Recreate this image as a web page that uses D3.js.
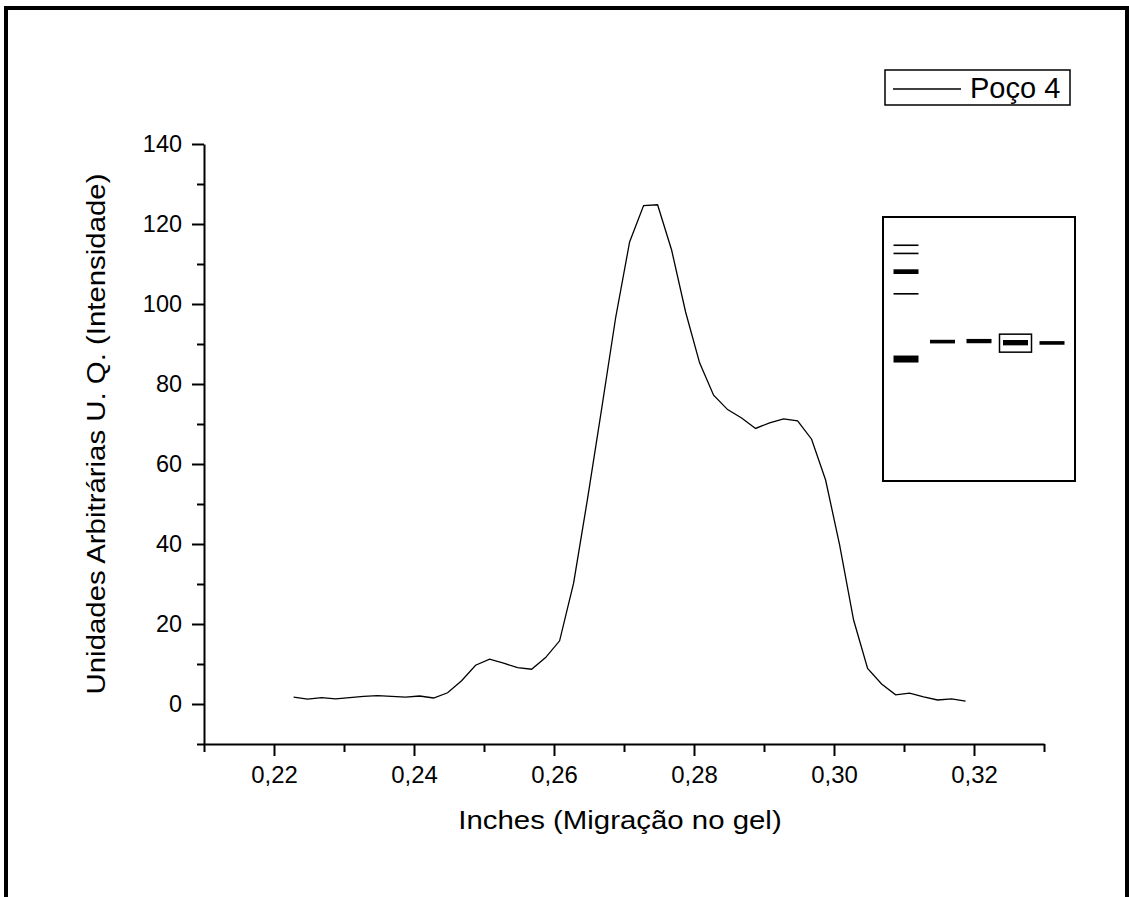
<!DOCTYPE html>
<html lang="pt">
<head>
<meta charset="utf-8">
<title>Poço 4 - densitometria</title>
<script src="https://d3js.org/d3.v7.min.js"></script>
<style>
    body { margin: 0; background: #fff; }
    svg { display: block; font-family: "Liberation Sans", Arial, sans-serif; }
    .axis path, .axis line { stroke: #000; stroke-width: 2; }
    .axis text { font-size: 23px; fill: #000; }
</style>
</head>
<body>
<div id="chart"></div>
<script>
var migracao = [0.2228, 0.2248, 0.2268, 0.2288, 0.2308, 0.2328, 0.2348, 0.2368, 0.2388, 0.2408,
    0.2428, 0.2448, 0.2468, 0.2488, 0.2508, 0.2528, 0.2548, 0.2568, 0.2588, 0.2608,
    0.2628, 0.2648, 0.2668, 0.2688, 0.2708, 0.2728, 0.2748, 0.2768, 0.2788, 0.2808,
    0.2828, 0.2848, 0.2868, 0.2888, 0.2908, 0.2928, 0.2948, 0.2968, 0.2988, 0.3008,
    0.3028, 0.3048, 0.3068, 0.3088, 0.3108, 0.3128, 0.3148, 0.3168, 0.3188];
var intensidade = [1.7, 1.2, 1.6, 1.3, 1.6, 1.9, 2.1, 1.9, 1.7, 2.0,
    1.5, 2.8, 5.8, 9.7, 11.2, 10.2, 9.1, 8.7, 11.6, 15.8,
    30.2, 51.4, 73.7, 96.5, 115.5, 124.6, 124.8, 113.5, 98.0, 85.3,
    77.2, 73.6, 71.5, 68.9, 70.3, 71.3, 70.8, 66.2, 56.0, 39.8,
    21.0, 8.9, 5.0, 2.3, 2.7, 1.8, 1.0, 1.3, 0.7];

var xTicks = [0.22, 0.24, 0.26, 0.28, 0.30, 0.32];
var xMinor = [0.21, 0.23, 0.25, 0.27, 0.29, 0.31, 0.33];
var yTicks = [0, 20, 40, 60, 80, 100, 120, 140];
var yMinor = [-10, 10, 30, 50, 70, 90, 110, 130];

// gel (inset): pista, migração relativa (0-100), intensidade relativa
var gelPista = [1, 1, 1, 1, 1, 2, 3, 4, 5];
var gelMigr = [10.7, 13.8, 20.7, 29.1, 53.8, 47.2, 47.0, 47.6, 47.7];
var gelInt = [1, 1, 3.3, 1, 5, 2.5, 3, 3.8, 2.5];
var pistaSelecionada = 4;

var serie = "Poço 4";

var W = 1129, H = 897;
var svg = d3.select("#chart").append("svg")
    .attr("width", W).attr("height", H);

// moldura da página
svg.append("rect")
    .attr("x", 6).attr("y", 8)
    .attr("width", 1121).attr("height", 960)
    .attr("fill", "none").attr("stroke", "#000").attr("stroke-width", 4);

var x = d3.scaleLinear().domain([0.21, 0.33]).range([204, 1044]),
    y = d3.scaleLinear().domain([-10, 140]).range([744, 144]);

var fmt = function (d) { return d3.format(".2f")(d).replace(".", ","); };

function stretch(sel, f) {
    sel.each(function () {
        var w = this.getComputedTextLength();
        d3.select(this).attr("textLength", w * f).attr("lengthAdjust", "spacingAndGlyphs");
    });
}

// eixo x
var gx = svg.append("g").attr("class", "axis").attr("transform", "translate(0," + y(-10) + ")");
gx.call(d3.axisBottom(x).tickValues(xTicks).tickFormat(fmt).tickSize(12).tickSizeOuter(0).tickPadding(11));
gx.append("g").call(d3.axisBottom(x).tickValues(xMinor).tickFormat("").tickSize(8).tickSizeOuter(0))
    .select(".domain").remove();
gx.selectAll("text").call(stretch, 1.04);

// eixo y
var gy = svg.append("g").attr("class", "axis").attr("transform", "translate(" + x(0.21) + ",0)");
gy.call(d3.axisLeft(y).tickValues(yTicks).tickSize(12).tickSizeOuter(0).tickPadding(10));
gy.append("g").call(d3.axisLeft(y).tickValues(yMinor).tickFormat("").tickSize(7).tickSizeOuter(0))
    .select(".domain").remove();
gy.selectAll("text").call(stretch, 1.02);

// títulos
svg.append("text")
    .attr("x", 620).attr("y", 829)
    .attr("text-anchor", "middle")
    .style("font-size", "26px")
    .text("Inches (Migração no gel)")
    .call(stretch, 1.13);

svg.append("text")
    .attr("transform", "translate(105,434) rotate(-90)")
    .attr("text-anchor", "middle")
    .style("font-size", "26px")
    .text("Unidades Arbitrárias U. Q. (Intensidade)")
    .call(stretch, 1.13);

// curva
var linha = d3.line()
    .x(function (d, i) { return x(migracao[i]); })
    .y(function (d) { return y(d); });
svg.append("path")
    .datum(intensidade)
    .attr("d", linha)
    .attr("fill", "none")
    .attr("stroke", "#000")
    .attr("stroke-width", 1.3);

// legenda
var leg = svg.append("g");
leg.append("rect").attr("x", 885).attr("y", 70).attr("width", 185).attr("height", 35)
    .attr("fill", "#fff").attr("stroke", "#000").attr("stroke-width", 1.5);
leg.append("line").attr("x1", 893).attr("x2", 961).attr("y1", 89).attr("y2", 89)
    .attr("stroke", "#000").attr("stroke-width", 1.3);
leg.append("text").attr("x", 970).attr("y", 98)
    .style("font-size", "29px").text(serie);

// inset do gel
var gel = svg.append("g");
gel.append("rect").attr("x", 883).attr("y", 217).attr("width", 192).attr("height", 264)
    .attr("fill", "#fff").attr("stroke", "#000").attr("stroke-width", 2);

var pista = d3.scalePoint().domain([1, 2, 3, 4, 5]).range([906, 1052]),
    migr = d3.scaleLinear().domain([0, 100]).range([217, 481]),
    espessura = d3.scaleLinear().domain([1, 5]).range([1.6, 7]);

gel.selectAll("line.banda").data(gelMigr).enter().append("line")
    .attr("class", "banda")
    .attr("x1", function (d, i) { return pista(gelPista[i]) - 12.5; })
    .attr("x2", function (d, i) { return pista(gelPista[i]) + 12.5; })
    .attr("y1", function (d) { return migr(d); })
    .attr("y2", function (d) { return migr(d); })
    .attr("stroke", "#000")
    .attr("stroke-width", function (d, i) { return espessura(gelInt[i]); });

var iSel = gelPista.indexOf(pistaSelecionada);
gel.append("rect")
    .attr("x", pista(pistaSelecionada) - 16)
    .attr("y", migr(gelMigr[iSel]) - 8.5)
    .attr("width", 32).attr("height", 18)
    .attr("fill", "none").attr("stroke", "#000").attr("stroke-width", 1.5);
</script>
</body>
</html>
